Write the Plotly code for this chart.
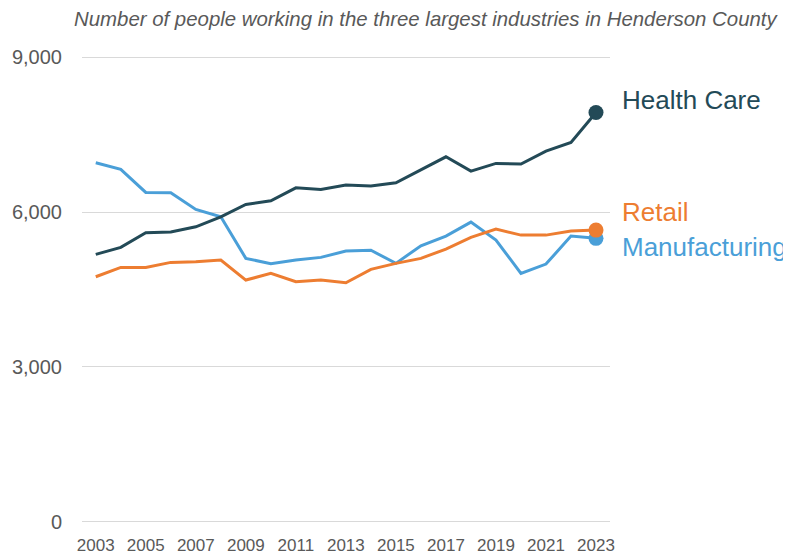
import plotly.graph_objects as go

years = list(range(2003, 2024))
health_care = [5180, 5315, 5598, 5612, 5714, 5908, 6147, 6217, 6469, 6438, 6521,
               6502, 6566, 6825, 7069, 6792, 6941, 6930, 7179, 7347, 7928]
manufacturing = [6953, 6825, 6380, 6373, 6051, 5908, 5103, 4998, 5070, 5122, 5244,
                 5260, 5006, 5347, 5534, 5805, 5457, 4812, 4992, 5534, 5490]
retail = [4747, 4928, 4925, 5025, 5037, 5070, 4683, 4812, 4650, 4683, 4631,
          4890, 5006, 5103, 5283, 5509, 5670, 5553, 5553, 5631, 5650]

series = [
    ("Manufacturing", manufacturing, "#4a9fd8"),
    ("Retail", retail, "#ed7d31"),
    ("Health Care", health_care, "#234a57"),
]

FONT = "Liberation Sans, Arial, sans-serif"
fig = go.Figure()
for name, vals, col in series:
    fig.add_trace(go.Scatter(
        x=years, y=vals, mode="lines", name=name,
        line=dict(color=col, width=3), showlegend=False, hoverinfo="skip"))
    fig.add_trace(go.Scatter(
        x=[years[-1]], y=[vals[-1]], mode="markers",
        marker=dict(color=col, size=15), showlegend=False, hoverinfo="skip"))

# label positions in paper units of a plot area 47..516 (page 55..524)
labels = [("Health Care", "#234a57", 0.9030),
          ("Retail", "#ed7d31", 0.6663),
          ("Manufacturing", "#4a9fd8", 0.5896)]
for text, col, ypos in labels:
    fig.add_annotation(text=text, xref="paper", yref="paper", x=1.019, y=ypos,
                       xanchor="left", yanchor="middle", showarrow=False,
                       font=dict(family=FONT, size=26, color=col))

fig.add_annotation(text="<i>Number of people working in the three largest industries in Henderson County</i>",
                   xref="paper", yref="paper", x=1.3239, y=1.0768,
                   xanchor="right", yanchor="middle", showarrow=False,
                   font=dict(family=FONT, size=20.4, color="#595959"))

# page body has an 8px margin, so the figure is sized/offset to compensate
fig.update_layout(
    width=783, height=547,
    margin=dict(l=74, r=181, t=47, b=31, autoexpand=False),
    paper_bgcolor="white", plot_bgcolor="white",
    font=dict(family=FONT, color="#595959"),
    xaxis=dict(range=[2002.45, 2023.56], tickvals=years[::2],
               ticktext=[str(y) for y in years[::2]],
               showgrid=False, zeroline=False, showline=False, automargin=False,
               ticks="", ticklabelstandoff=9,
               tickfont=dict(size=17, color="#595959")),
    yaxis=dict(range=[-40, 9040], tickvals=[0, 3000, 6000, 9000],
               tickformat=",", showgrid=True, gridcolor="#d9d9d9", gridwidth=1,
               zeroline=False, showline=False, ticks="", automargin=False,
               ticklabelstandoff=19,
               tickfont=dict(size=20, color="#595959")),
)

fig.write_html("out.html")
